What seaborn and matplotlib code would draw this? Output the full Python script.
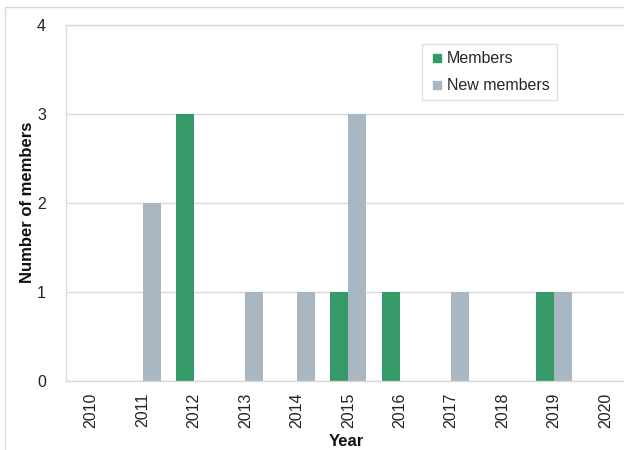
import matplotlib
matplotlib.use("Agg")
import matplotlib.pyplot as plt
import matplotlib.patches as mpatches
from matplotlib.lines import Line2D
import pandas as pd
import seaborn as sns

# data
years = ["2010", "2011", "2012", "2013", "2014", "2015", "2016", "2017", "2018", "2019", "2020"]
members = [0, 0, 3, 0, 0, 1, 1, 0, 0, 1, 0]
new_members = [0, 2, 0, 1, 1, 3, 0, 1, 0, 1, 0]
series_names = ["Members", "New members"]
colors = ["#359a68", "#a9b7c3"]

df = pd.DataFrame({
    "year": years * 2,
    "count": members + new_members,
    "series": [series_names[0]] * len(years) + [series_names[1]] * len(years),
})

sns.set_theme(style="white")
plt.rcParams["font.family"] = ["Liberation Sans", "DejaVu Sans"]

W, H = 624, 450
fig = plt.figure(figsize=(W / 100, H / 100), dpi=100)

# axes area in pixels (plot area runs past the right edge of the picture)
left, right, top, bottom = 65.5, 631, 25, 380.7
ax = fig.add_axes([left / W, 1 - bottom / H, (right - left) / W, (bottom - top) / H])

# outer chart frame
fig.patches.append(mpatches.Rectangle((5 / W, -0.1), 1.2, 1 - 7 / H + 0.1, transform=fig.transFigure,
                                      fill=False, edgecolor="#d9d9d9", linewidth=1, zorder=0))

sns.barplot(data=df, x="year", y="count", hue="series", order=years, hue_order=series_names,
            palette=colors, width=0.7, saturation=1, linewidth=0, ax=ax, legend=False)

ax.set_xlim(-0.5, len(years) - 0.5)
ax.set_ylim(0, 4)
ax.set_yticks([0, 1, 2, 3, 4])
ax.yaxis.grid(True, color="#d9d9d9", linewidth=1)
ax.set_axisbelow(True)
for s in ax.spines.values():
    s.set_color("#d9d9d9")
    s.set_linewidth(1)
ax.tick_params(axis="y", length=0, pad=14, labelsize=11.5, colors="#222222")
ax.tick_params(axis="x", length=0, pad=8.5, labelsize=11.5, rotation=90, colors="#222222")

ax.set_xlabel("Year", fontsize=12, fontweight="bold", color="#111111")
ax.set_ylabel("Number of members", fontsize=12, fontweight="bold", color="#111111")
ax.xaxis.set_label_coords((346 - left) / (right - left), (bottom - 434) / (bottom - top))
ax.yaxis.set_label_coords((35 - left) / (right - left), (bottom - 202) / (bottom - top))

handles = [Line2D([0], [0], marker="s", linestyle="none", markersize=6,
                  markerfacecolor=c, markeredgecolor=c) for c in colors]
leg = ax.legend(handles, series_names, loc="upper left",
                bbox_to_anchor=((422 - left) / (right - left), (bottom - 44) / (bottom - top)),
                borderaxespad=0, fontsize=11.5, frameon=True, fancybox=False,
                handlelength=1.0, handletextpad=0.1, labelspacing=0.75,
                borderpad=0.45)
leg.get_frame().set_edgecolor("#d9d9d9")
leg.get_frame().set_linewidth(1)

fig.savefig("out.png", dpi=100)
